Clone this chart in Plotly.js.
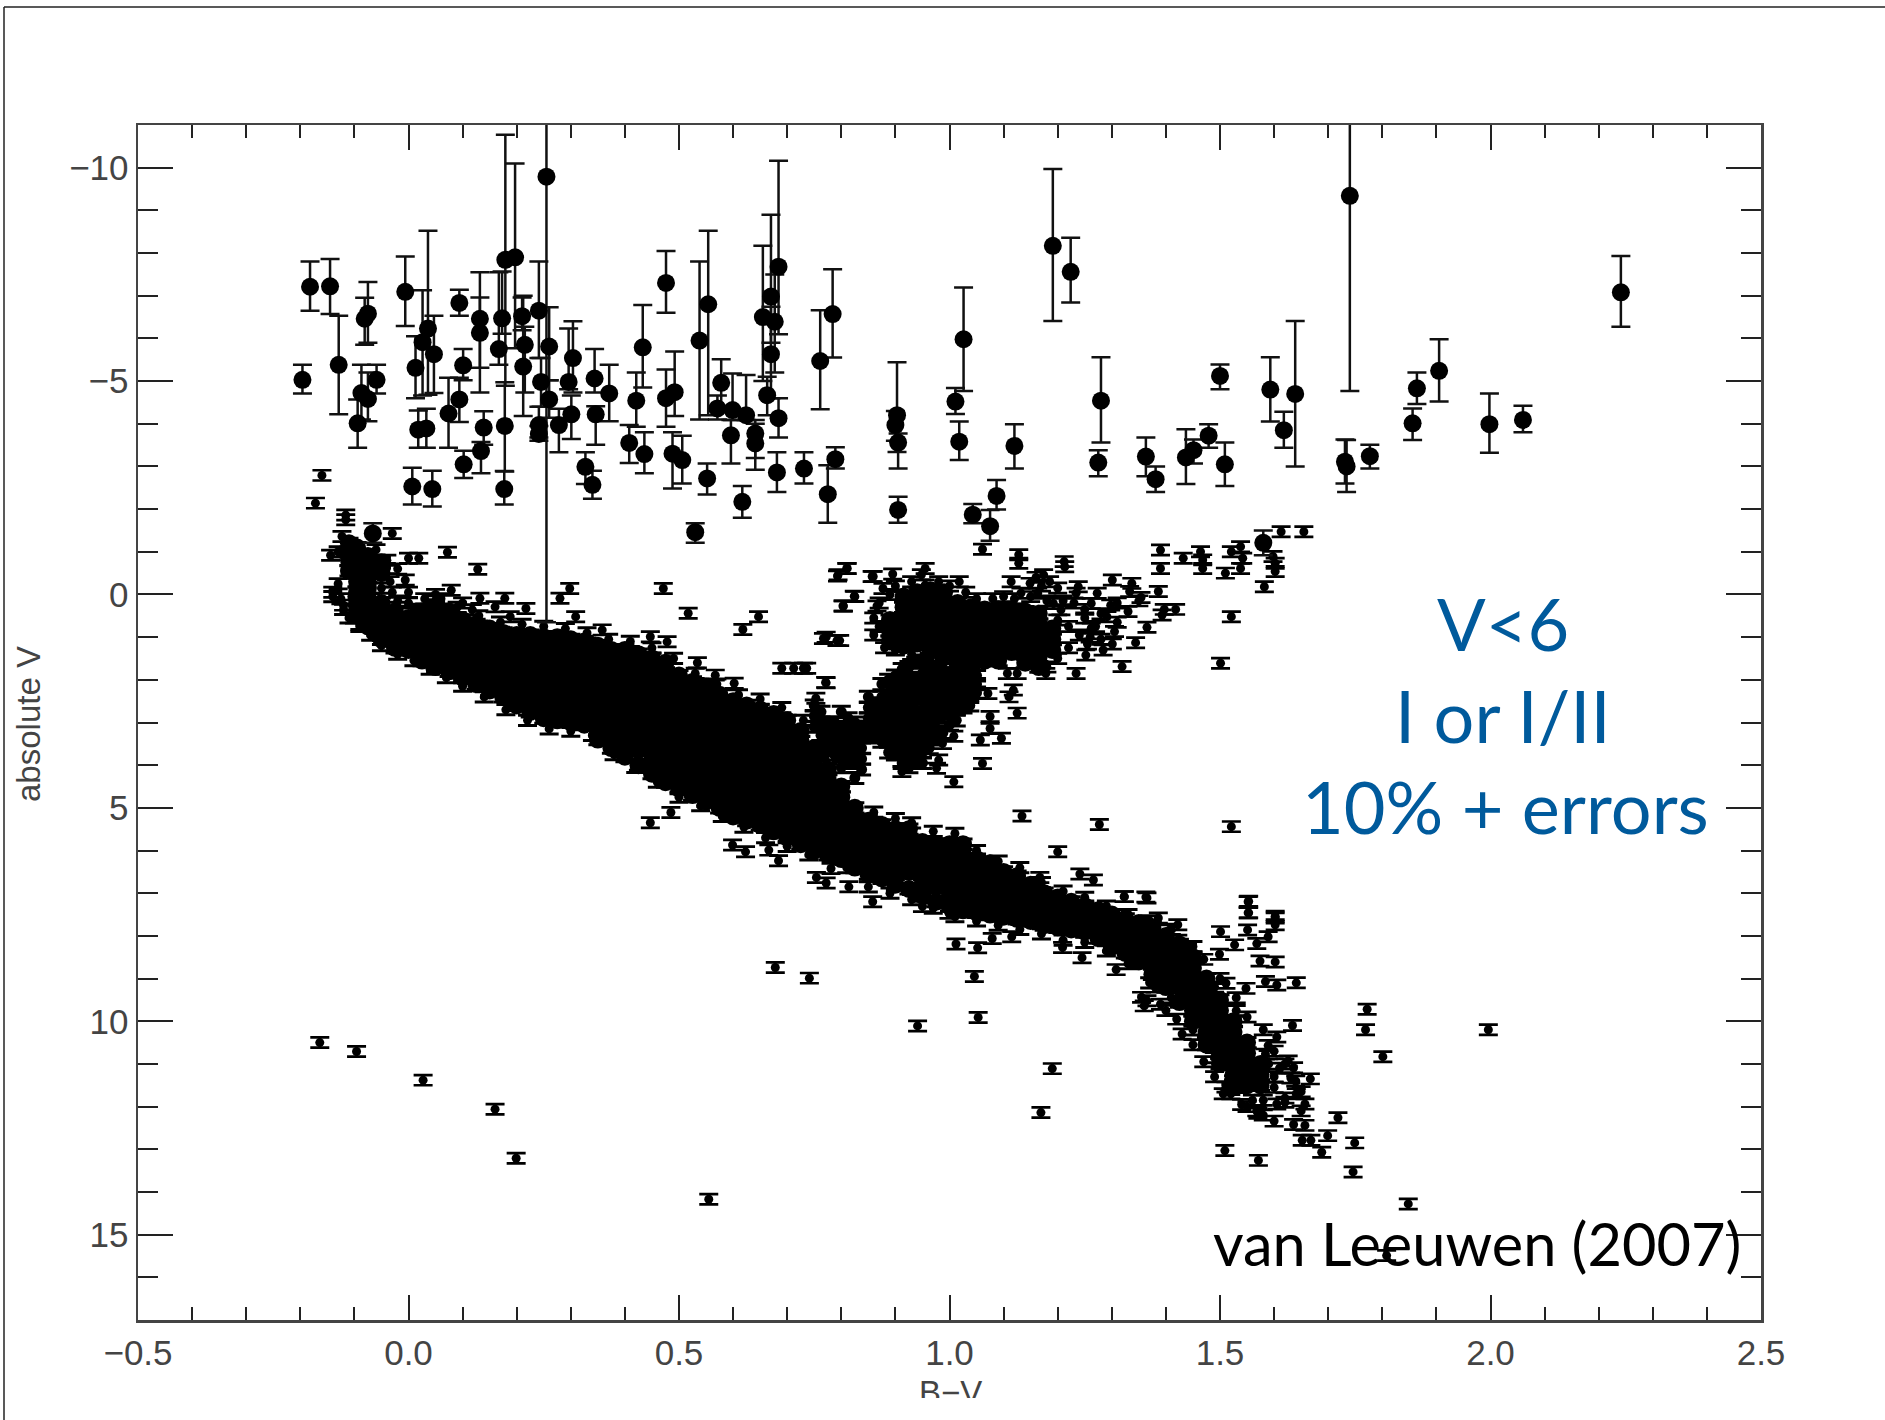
<!DOCTYPE html>
<html><head><meta charset="utf-8">
<script src="https://cdn.plot.ly/plotly-3.0.1.min.js"></script>
<style>html,body{margin:0;padding:0;background:#fff;overflow:hidden}#cut{position:absolute;left:700px;top:1398px;width:500px;height:22px;background:#fff}</style>
</head><body><div id="g" style="width:1885px;height:1420px"></div><div id="cut"></div>
<script>
// bright stars: colour, magnitude, top and bottom of the error bar
const brightX=[-0.196,-0.182,-0.145,-0.129,-0.094,-0.087,-0.075,-0.059,-0.081,-0.075,-0.006,0.013,0.026,0.036,0.047,0.018,0.033,0.007,0.044,0.074,0.094,0.101,0.094,0.102,0.134,0.139,0.132,0.132,0.167,0.173,0.179,0.197,0.178,0.177,0.212,0.215,0.21,0.241,0.255,0.26,0.245,0.26,0.241,0.241,0.304,0.296,0.301,0.278,0.327,0.34,0.344,0.346,0.371,0.408,0.436,0.421,0.433,0.476,0.476,0.492,0.488,0.506,0.538,0.53,0.554,0.552,0.578,0.571,0.596,0.617,0.599,0.624,0.641,0.641,0.655,0.67,0.684,0.677,0.67,0.663,0.684,0.681,0.731,0.789,0.775,0.761,0.784,0.903,0.9,0.905,0.905,1.011,1.026,1.018,1.043,1.075,1.087,1.12,1.191,1.224,1.28,1.275,1.363,1.381,1.437,1.451,1.479,1.5,1.509,1.593,1.618,1.639,1.58,1.731,1.734,1.74,1.777,1.856,1.864,1.905,1.998,2.06,2.241,-0.066];
const brightY=[-5.03,-7.21,-7.22,-5.38,-4.01,-4.72,-4.58,-5.03,-6.46,-6.58,-7.09,-5.31,-5.91,-6.23,-5.63,-3.86,-3.89,-2.53,-2.47,-4.24,-4.57,-5.37,-6.83,-3.05,-3.36,-3.91,-6.46,-6.13,-5.75,-6.47,-7.84,-7.9,-3.95,-2.47,-5.34,-5.85,-6.52,-6.65,-9.79,-5.81,-4.98,-4.57,-3.97,-3.76,-5.54,-4.98,-4.22,-3.97,-2.99,-2.57,-5.06,-4.22,-4.71,-3.55,-3.29,-4.54,-5.79,-7.3,-4.6,-4.74,-3.3,-3.15,-5.95,-1.46,-6.8,-2.72,-4.96,-4.36,-3.73,-2.17,-4.32,-4.2,-3.77,-3.54,-6.5,-6.98,-7.68,-6.39,-5.63,-4.67,-4.13,-2.86,-2.95,-3.17,-2.35,-5.47,-6.57,-4.2,-3.97,-3.56,-1.98,-4.52,-5.98,-3.58,-1.87,-1.6,-2.31,-3.48,-8.17,-7.56,-4.54,-3.09,-3.23,-2.7,-3.21,-3.38,-3.72,-5.12,-3.05,-4.8,-3.85,-4.7,-1.21,-3.11,-3.0,-9.34,-3.24,-4.01,-4.83,-5.24,-3.99,-4.09,-7.08,-1.43];
const brightTop=[-5.38,-7.8,-7.86,-6.53,-4.57,-5.38,-5.2,-5.38,-6.95,-7.32,-7.92,-6.05,-7.13,-8.52,-6.53,-4.31,-4.35,-2.97,-2.9,-5.08,-5.08,-5.75,-7.14,-3.37,-3.57,-4.29,-7.55,-6.96,-7.55,-7.57,-10.77,-10.1,-4.97,-2.89,-7.0,-6.27,-6.96,-7.8,-11.5,-6.73,-5.54,-5.02,-4.4,-3.95,-6.4,-6.23,-4.66,-4.35,-3.33,-2.9,-5.75,-4.41,-5.38,-3.97,-3.8,-5.2,-6.78,-8.05,-5.27,-5.69,-3.8,-3.72,-7.8,-1.67,-8.52,-3.07,-5.51,-4.66,-4.09,-2.54,-5.18,-5.14,-4.09,-4.0,-8.17,-8.9,-10.16,-7.5,-6.74,-5.1,-4.6,-3.33,-3.33,-3.45,-3.03,-6.66,-7.62,-5.44,-4.3,-3.77,-2.29,-4.84,-7.19,-4.05,-2.12,-1.98,-2.68,-3.99,-9.97,-8.36,-5.56,-3.38,-3.68,-3.0,-3.87,-3.63,-3.99,-5.39,-3.56,-5.56,-4.28,-6.41,-1.5,-3.63,-3.62,-11.5,-3.51,-4.36,-5.2,-5.98,-4.71,-4.42,-7.93,-1.67];
const brightBottom=[-4.71,-6.65,-6.57,-4.22,-3.44,-4.1,-4.06,-4.71,-5.85,-5.9,-6.29,-4.6,-4.66,-4.68,-4.72,-3.44,-3.44,-2.11,-2.06,-3.44,-4.04,-5.02,-6.53,-2.73,-2.84,-3.51,-5.31,-4.73,-5.38,-6.11,-4.89,-5.77,-2.88,-2.11,-4.18,-4.73,-6.19,-5.54,0.65,-5.02,-4.4,-4.14,-3.68,-3.6,-4.73,-4.81,-3.64,-3.33,-2.59,-2.24,-4.73,-3.51,-4.06,-3.08,-2.84,-3.93,-4.85,-6.6,-3.93,-4.18,-2.48,-2.6,-4.1,-1.21,-4.2,-2.34,-4.3,-4.1,-3.07,-1.8,-4.09,-4.09,-3.2,-2.92,-5.0,-5.9,-6.1,-5.2,-4.6,-4.2,-3.68,-2.4,-2.6,-2.95,-1.68,-4.34,-5.55,-3.34,-3.6,-2.95,-1.68,-4.23,-4.77,-3.15,-1.67,-1.26,-1.99,-2.95,-6.41,-6.84,-3.56,-2.77,-2.77,-2.4,-2.59,-3.07,-3.44,-4.81,-2.54,-4.05,-3.44,-3.0,-0.92,-2.6,-2.4,-4.77,-2.95,-3.62,-4.46,-4.52,-3.32,-3.8,-6.27,-1.21];

// densely packed stars along the main sequence, column by column
const coreColors=[-0.11,-0.095,-0.075,-0.05,-0.025,0,0.025,0.05,0.075,0.1,0.125,0.15,0.175,0.2,0.225,0.25,0.275,0.3,0.325,0.35,0.375,0.4,0.425,0.45,0.475,0.5,0.525,0.55,0.575,0.6,0.625,0.65,0.675,0.7,0.725,0.75,0.775,0.8,0.825,0.85,0.875,0.9,0.925,0.95,0.975,1.0,1.025,1.05,1.075,1.1,1.125,1.15,1.175,1.2,1.225,1.25,1.275,1.3,1.325,1.35,1.375,1.4,1.425,1.45,1.475,1.5,1.525,1.55,1.575];
const coreMags=[
[-1.2,-1.0,-0.8,-0.55],
[-1.1,-0.9,-0.7,-0.5,-0.3,-0.05,0.15,0.35],
[-0.9,-0.7,-0.4,-0.15,0.1,0.3,0.55,0.75],
[-0.75,-0.5,0.2,0.4,0.65,0.85,1.05],
[0.4,0.6,0.85,1.1,1.25],
[0.55,0.8,1.05,1.3],
[0.4,0.65,0.9,1.15,1.4,1.55],
[0.3,0.55,0.8,1.05,1.3,1.55,1.7],
[0.4,0.65,0.9,1.15,1.4,1.65,1.8],
[0.6,0.85,1.1,1.35,1.6,1.85,1.95],
[0.7,0.95,1.2,1.45,1.7,1.95,2.1],
[0.8,1.05,1.3,1.55,1.8,2.05,2.25],
[0.9,1.15,1.4,1.65,1.9,2.15,2.4],
[0.95,1.2,1.45,1.7,1.95,2.2,2.45,2.6],
[0.95,1.2,1.45,1.7,1.95,2.2,2.45,2.75],
[1.0,1.25,1.5,1.75,2.0,2.25,2.5,2.75,2.9],
[1.0,1.25,1.5,1.75,2.0,2.25,2.5,2.75,2.95],
[1.05,1.3,1.55,1.8,2.05,2.3,2.55,2.8,3.0],
[1.1,1.35,1.6,1.85,2.1,2.35,2.6,2.85,3.05],
[1.2,1.45,1.7,1.95,2.2,2.45,2.7,2.95,3.2,3.4],
[1.3,1.55,1.8,2.05,2.3,2.55,2.8,3.05,3.3,3.6],
[1.3,1.55,1.8,2.05,2.3,2.55,2.8,3.05,3.3,3.55,3.8],
[1.4,1.65,1.9,2.15,2.4,2.65,2.9,3.15,3.4,3.65,4.0],
[1.5,1.75,2.0,2.25,2.5,2.75,3.0,3.25,3.5,3.75,4.0,4.2],
[1.6,1.85,2.1,2.35,2.6,2.85,3.1,3.35,3.6,3.85,4.1,4.4],
[1.9,2.15,2.4,2.65,2.9,3.15,3.4,3.65,3.9,4.15,4.4,4.55],
[2.05,2.3,2.55,2.8,3.05,3.3,3.55,3.8,4.05,4.3,4.55,4.7],
[2.15,2.4,2.65,2.9,3.15,3.4,3.65,3.9,4.15,4.4,4.65,4.85],
[2.35,2.6,2.85,3.1,3.35,3.6,3.85,4.1,4.35,4.6,4.85,5.0],
[2.5,2.75,3.0,3.25,3.5,3.75,4.0,4.25,4.5,4.75,5.0,5.2],
[2.6,2.85,3.1,3.35,3.6,3.85,4.1,4.35,4.6,4.85,5.1,5.3],
[2.7,2.95,3.2,3.45,3.7,3.95,4.2,4.45,4.7,4.95,5.2,5.4],
[2.8,3.05,3.3,3.55,3.8,4.05,4.3,4.55,4.8,5.05,5.3,5.55],
[2.95,3.2,3.45,3.7,3.95,4.2,4.45,4.7,4.95,5.2,5.45,5.7],
[3.2,3.45,3.7,3.95,4.2,4.45,4.7,4.95,5.2,5.45,5.7,5.85],
[3.6,3.85,4.1,4.35,4.6,4.85,5.1,5.35,5.6,5.85,6.0],
[4.1,4.35,4.6,4.85,5.1,5.35,5.6,5.85,6.1],
[4.5,4.75,5.0,5.25,5.5,5.75,6.0,6.2],
[5.0,5.25,5.5,5.75,6.0,6.2,6.4],
[5.3,5.55,5.8,6.05,6.3,6.55],
[5.4,5.65,5.9,6.15,6.4,6.65],
[5.5,5.75,6.0,6.25,6.5,6.8],
[5.5,5.75,6.0,6.25,6.5,6.9],
[5.8,6.05,6.3,6.55,6.8,7.05],
[5.85,6.1,6.35,6.6,6.85,7.2],
[5.85,6.1,6.35,6.6,6.85,7.1,7.3],
[5.85,6.1,6.35,6.6,6.85,7.1,7.4],
[6.2,6.45,6.7,6.95,7.2,7.45],
[6.3,6.55,6.8,7.05,7.3,7.5],
[6.5,6.75,7.0,7.25,7.55],
[6.6,6.85,7.1,7.35,7.6],
[6.8,7.05,7.3,7.55,7.65],
[7.0,7.25,7.5,7.75],
[7.1,7.35,7.6,7.8],
[7.2,7.45,7.7,7.85],
[7.3,7.55,7.8,7.9],
[7.4,7.65,7.9,8.05],
[7.5,7.75,8.0,8.25],
[7.6,7.85,8.1,8.4],
[7.7,7.95,8.2,8.45,8.6],
[7.8,8.05,8.3,8.55,8.9],
[8.0,8.25,8.5,8.75,9.0,9.2],
[8.2,8.45,8.7,8.95,9.2,9.55],
[8.5,8.75,9.0,9.25,9.5,9.75,10.0],
[9.0,9.25,9.5,9.75,10.0,10.25,10.55],
[9.5,9.75,10.0,10.25,10.5,10.75,11.0],
[10.0,10.25,10.5,10.75,11.0,11.25,11.4],
[10.5,10.75,11.0,11.25,11.5],
[11.0,11.25,11.5]
];
const clumpColors=[0.89,0.915,0.94,0.965,0.99,1.015,1.04,1.065,1.09,1.115,1.14,1.165,1.19];
const clumpMags=[
[0.6,0.85,1.1],
[0.05,0.3,0.55,0.8,1.05,1.2],
[-0.05,0.2,0.45,0.7,0.95,1.15],
[-0.1,0.15,0.4,0.65,0.9,1.1,1.3],
[-0.05,0.2,0.45,0.7,0.95,1.2,1.4],
[0.2,0.45,0.7,0.95,1.2,1.45,1.65],
[0.3,0.55,0.8,1.05,1.3,1.55,1.75],
[0.35,0.6,0.85,1.1,1.35,1.55],
[0.35,0.6,0.85,1.1,1.35,1.55],
[0.35,0.6,0.85,1.1,1.35],
[0.4,0.65,0.9,1.15,1.4,1.6],
[0.45,0.7,0.95,1.2,1.45,1.7],
[0.8,1.05,1.3]
];
// stars of the sub-giant branch, column by column
const branchColors=[0.75,0.7625,0.775,0.7875,0.8,0.8125,0.825,0.8375,0.85,0.8625,0.875,0.8875,0.9,0.9125,0.925,0.9375,0.95,0.9625,0.975,0.9875,1.0,1.0125,1.025,1.0375,1.05];
const branchMags=[
[2.6,2.85,3.1],
[2.75,3.0,3.3,3.55],
[3.0,3.2,3.45,3.65],
[3.0,3.25,3.5,3.75],
[2.75,3.1,3.3,3.55,3.8,4.05],
[2.9,3.15,3.4,3.65,3.9],
[3.0,3.2,3.45,3.7,3.95,4.3],
[3.1,3.35,3.6,3.85,4.1],
[2.4,2.65,2.9,3.1,3.3],
[2.55,2.8,3.05,3.35],
[2.1,2.4,2.7,2.95,3.2,3.45],
[2.0,2.3,2.6,2.9,3.15,3.45,3.7],
[1.9,2.2,2.5,2.8,3.05,3.3,3.55,3.75],
[1.75,2.05,2.35,2.65,2.95,3.2,3.45,3.7,3.95],
[1.7,2.0,2.3,2.6,2.85,3.1,3.35,3.6,3.85,4.05],
[1.6,1.95,2.25,2.5,2.8,3.05,3.3,3.55,3.8],
[1.55,1.85,2.15,2.4,2.7,2.95,3.2,3.45,3.7,3.95],
[1.5,1.8,2.05,2.35,2.6,2.85,3.1,3.35,3.6],
[1.7,1.95,2.2,2.45,2.7,2.95,3.15,3.4],
[1.6,1.85,2.1,2.35,2.6,2.85,3.25],
[1.85,2.05,2.3,2.55,2.75,3.05],
[1.75,2.0,2.25,2.45,2.7,2.95],
[1.75,2.0,2.2,2.45,2.65],
[1.7,1.95,2.15,2.4,2.6],
[1.65,1.9,2.1,2.3]
];
// individually read stars
const looseX=[-0.16,-0.172,-0.116,-0.116,-0.03,-0.123,-0.144,0.072,0,0.019,0.128,-0.041,-0.006,-0.034,0.079,0.132,0.178,0.298,0.28,0.471,0.517,0.647,0.618,0.217,0.16,0.118,0.188,0.309,0.358,0.478,0.447,0.534,0.567,0.602,0.712,0.69,0.73,0.772,0.811,0.793,0.857,0.825,0.804,0.772,0.797,0.485,0.447,0.599,0.623,0.666,0.684,0.754,0.772,0.814,0.781,1.061,1.128,1.128,1.212,1.213,0.81,0.794,0.859,0.895,0.955,0.948,0.955,1.018,0.877,0.824,0.803,0.866,1.114,1.149,1.174,1.185,1.132,1.163,1.192,1.206,1.238,1.234,1.301,1.337,1.333,1.354,1.386,1.273,1.262,1.298,1.397,1.418,1.393,1.291,1.262,1.365,1.305,1.344,1.301,1.255,1.284,1.252,1.319,1.234,1.178,1.125,1.107,1.118,1.11,1.071,1.125,1.075,1.075,1.096,1.057,1.008,0.987,1.061,0.98,0.937,0.912,0.976,1.008,1.521,1.501,1.39,1.39,1.432,1.464,1.468,1.468,1.521,1.538,1.542,1.538,1.51,1.613,1.655,1.598,1.602,1.602,1.582,1.552,1.552,1.602,1.134,1.277,1.521,1.2,1.241,1.167,1.266,1.323,1.365,0.767,0.792,0.736,0.771,0.753,-0.164,-0.096,0.027,0.16,0.555,0.678,0.741,0.941,1.053,1.046,1.012,1.052,0.858,0.95,0.999,1.079,1.19,1.169,1.509,1.571,1.746,1.749,1.688,1.718,1.848,1.808,1.772,1.769,1.801,1.996,1.641,1.605,1.584,1.548,1.511,1.634,1.605,1.553,1.553,1.602,1.602,1.501,1.551,1.589,1.568,1.527,1.499,1.574,1.602,1.323,1.363,1.386,1.422,1.407,1.422,1.209,1.115,1.245,1.308,1.36,1.365,1.355,1.667,1.631,1.636,1.626,1.506,1.511,1.584,1.589,1.657,1.641,1.605,1.568,1.6,1.636,1.657,1.652,1.668,1.699,0.199,-0.06,-0.04,-0.02,-0.13,-0.14,-0.125,-0.12,-0.1,-0.09,-0.06,-0.03,0,0.03,0.06,0.1,0.05,0,-0.02,
0.86,0.87,0.86,0.88,0.9,0.93,1.2,1.22,1.24,1.25,1.27,1.22,1.2,1.18,1.26,1.28,1.31,1.33,1.35,1.31,1.28,1.25,1.23,1.21,1.18,1.15,1.12,1.1,1.08,1.05,1.03,1.0,0.98,0.93,0.9,0.89,0.87,1.17,1.2,1.16,
1.38,1.38,1.39,1.4,1.42,1.43,1.45,1.47,1.49,1.52,1.55,1.58,1.44,1.47,1.5,1.53,1.55,1.58,1.6,1.62,1.64,1.65,1.62,1.65,1.6,1.6,1.62,1.56,1.54,1.58,1.61,1.59,1.52];
const looseY=[-2.79,-2.14,-1.86,-1.75,-1.43,-1.36,-0.92,-0.99,-0.85,-0.85,-0.59,-0.61,-0.34,-0.3,-0.1,0.09,0.09,-0.14,0.09,-0.14,0.44,0.52,0.82,0.33,0.29,0.36,0.52,0.52,0.83,1.11,0.99,1.6,1.89,2.08,1.73,1.73,1.73,2.07,-0.61,-0.43,-0.42,0.05,0.27,1.0,1.08,5.11,5.35,5.87,6.03,5.99,6.24,6.63,6.76,6.85,6.42,-1.06,-0.93,-0.73,-0.77,-0.65,-0.61,-0.46,-0.42,-0.48,-0.61,-0.46,-0.22,-0.3,-0.14,0.04,0.27,0.27,-0.3,-0.26,-0.46,-0.3,-0.03,-0.03,0.21,0.36,-0.18,-0.03,-0.34,-0.26,-0.07,0.07,-0.07,-0.03,0.21,0.25,0.35,0.35,0.48,0.52,0.79,0.77,0.87,1.13,1.16,1.16,1.3,1.42,1.69,1.85,1.85,1.85,1.85,2.24,2.4,2.32,2.78,2.86,3.14,3.37,3.41,3.32,3.49,3.96,3.88,3.89,4.15,4.07,4.39,0.52,1.61,-1.04,-0.61,-0.85,-1.0,-0.81,-0.61,-1.0,-1.12,-0.85,-0.61,-0.5,-1.47,-1.47,-0.89,-0.73,-0.54,-0.18,7.2,7.46,7.54,5.19,5.39,5.44,6.03,6.55,6.63,6.69,7.08,7.11,1.03,1.08,1.73,2.06,2.43,10.5,10.71,11.38,12.06,14.17,8.74,8.99,10.11,9.91,8.95,8.19,8.28,7.2,7.31,7.47,8.06,11.11,12.14,13.03,13.26,13.53,12.85,13.07,12.26,14.28,15.49,9.72,10.2,10.83,10.2,9.1,9.15,9.07,9.23,9.11,10.1,10.37,7.19,7.46,7.58,7.74,7.9,7.86,8.02,8.18,8.21,8.43,8.59,8.61,7.08,7.09,7.58,7.74,7.86,8.1,8.27,8.02,8.51,8.79,9.64,9.52,9.44,11.35,11.33,11.09,10.93,11.7,11.54,10.77,10.57,11.94,11.7,11.94,12.1,12.34,12.42,12.44,12.79,12.79,12.68,13.21,-1.05,-0.8,-0.6,-0.25,-0.05,0.1,0.25,0.55,0.7,0.85,-0.05,-0.05,0.1,0.1,0.2,0,0.2,0.15,
0.55,0.75,0.95,1.25,1.3,1.4,0.6,0.75,0.95,0.55,0.75,1.25,1.5,1.7,1.0,1.05,0.65,0.4,0.15,0.2,0.45,0.35,0.2,0.15,0.15,0.05,0.1,0.05,0.1,0.1,-0.05,-0.2,-0.3,-0.3,-0.2,0,0.2,-0.2,-0.15,-0.4,
8.7,9.2,9.6,9.75,9.95,10.3,10.55,10.95,11.3,11.6,12.0,12.2,8.3,8.55,9.0,9.45,9.9,10.2,10.7,11.0,11.4,11.65,11.9,12.1,11.3,11.55,11.8,11.85,11.95,11.85,11.1,11.0,11.7];
// stars just along the upper and lower rims of the main sequence
const rimX=[-0.14,-0.13,-0.12,-0.11,-0.09,-0.07,-0.05,-0.02,0.01,0.04,0.07,0.1,0.14,0.18,0.22,0.26,0.3,0.34,0.38,0.42,0.46,0.5,0.54,0.58,0.62,0.66,0.7,0.74,-0.07,-0.05,-0.02,0.01,0.05,0.09,0.13,0.17,0.21,0.25,0.29,0.33,0.37,0.41,0.45,0.49,0.53,0.57,0.61,0.65,0.69,0.73,0.77,0.81,0.85,0.89,0.93,0.97,1.01,1.05,1.09,1.13,1.17,1.21,1.25,1.29,1.33,1.37,1.41,1.45,1.49,1.53,1.57,0.86,0.9,0.93,0.97,1.01,1.05,1.09,1.13,1.17,1.21,1.25,1.29,1.33,1.37,1.41,1.45,1.49,1.53];
const rimY=[0.05,-1.0,0.35,0.55,0.75,0.95,1.2,1.4,1.55,1.75,1.95,2.15,2.4,2.7,2.95,3.15,3.2,3.3,3.75,4.05,4.4,4.75,4.95,5.2,5.45,5.7,5.9,6.1,0.1,-0.15,0.3,0.35,0.15,0.3,0.5,0.65,0.7,0.75,0.8,0.9,1.05,1.1,1.25,1.5,1.85,2.1,2.35,2.45,2.65,2.95,3.85,6.4,6.85,7.0,7.15,7.35,7.55,7.65,7.75,7.85,7.95,8.1,8.15,8.35,8.65,9.1,9.45,10.2,10.85,11.55,12.15,5.1,5.25,5.35,5.55,5.6,6.0,6.25,6.4,6.75,6.95,7.1,7.3,7.5,7.65,7.85,8.25,9.2,9.75];

const xs=(cols,mags)=>cols.flatMap((c,i)=>mags[i].map(()=>c));
const ys=mags=>mags.flat();
function dots(x,y,size,err,thick){return {type:'scatter',mode:'markers',x:x,y:y,cliponaxis:true,
  marker:{color:'#000',size:size,line:{width:0}},
  error_y:{type:'constant',value:err,visible:true,color:'#000',thickness:thick,width:9.5},hoverinfo:'skip'};}
const data=[
  dots(xs(branchColors,branchMags),ys(branchMags),11,0.13,3),
  dots(rimX,rimY,9,0.12,3),
  dots(looseX,looseY,9,0.12,2.7),
  dots(xs(coreColors,coreMags),ys(coreMags),18,0.12,3),
  dots(xs(clumpColors,clumpMags),ys(clumpMags),18,0.12,3),
  {type:'scatter',mode:'markers',x:brightX,y:brightY,marker:{color:'#000',size:18,line:{width:0}},hoverinfo:'skip',
   error_y:{type:'data',symmetric:false,array:brightBottom.map((b,i)=>b-brightY[i]),arrayminus:brightTop.map((t,i)=>brightY[i]-t),color:'#111',thickness:2.5,width:9.5}}
];
const px=v=>(v-138)/1623, py=v=>(1320-v)/1195;
const axisFont={family:'"Liberation Sans",Arial,sans-serif',size:35,color:'#444'};
const titleFamily=axisFont.family;
const blue='#005A9C', gill='Lato,"Open Sans",sans-serif';
function note(text,x,y,size,color,family,angle){return {text:text,xref:'paper',yref:'paper',x:px(x),y:py(y),xanchor:'center',yanchor:'middle',showarrow:false,textangle:angle||0,font:{family:family,size:size,color:color}};}
const layout={width:1885,height:1420,paper_bgcolor:'#fff',plot_bgcolor:'#fff',showlegend:false,
  margin:{l:138,r:124,t:125,b:100,pad:0},
  xaxis:{range:[-0.5,2.5],tick0:-0.5,dtick:0.5,tickformat:'.1f',ticks:'inside',ticklen:25,tickwidth:2,tickcolor:'#222',
    showline:true,linewidth:2.5,linecolor:'#444',mirror:'ticks',showgrid:false,zeroline:false,tickfont:axisFont,
    minor:{dtick:0.1,ticks:'inside',ticklen:13,tickwidth:2,tickcolor:'#222',showgrid:false}},
  yaxis:{range:[17,-11],tick0:-10,dtick:5,ticks:'inside',ticklen:35,tickwidth:2,tickcolor:'#222',
    showline:true,linewidth:2.5,linecolor:'#444',mirror:'ticks',showgrid:false,zeroline:false,tickfont:axisFont,
    minor:{dtick:1,ticks:'inside',ticklen:20,tickwidth:2,tickcolor:'#222',showgrid:false}},
  shapes:[
    {type:'line',xref:'paper',yref:'paper',x0:px(4),x1:px(1885),y0:py(7),y1:py(7),line:{color:'#222',width:1.5}},
    {type:'line',xref:'paper',yref:'paper',x0:px(4),x1:px(4),y0:py(7),y1:py(1420),line:{color:'#222',width:1.5}}
  ],
  annotations:[
    note('absolute V',28,724,33,'#444',titleFamily,-90),
    note('B\u2212V',950,1392,33,'#444',titleFamily),
    note('V&lt;6',1503,623,72,blue,gill),
    note('I or I/II',1503,715,72,blue,gill),
    note('10% + errors',1505,806,72,blue,gill),
    note('van Leeuwen (2007)',1477,1243,59.5,'#000',gill)
  ]};
Plotly.newPlot('g',data,layout,{displayModeBar:false,staticPlot:true});
</script></body></html>
